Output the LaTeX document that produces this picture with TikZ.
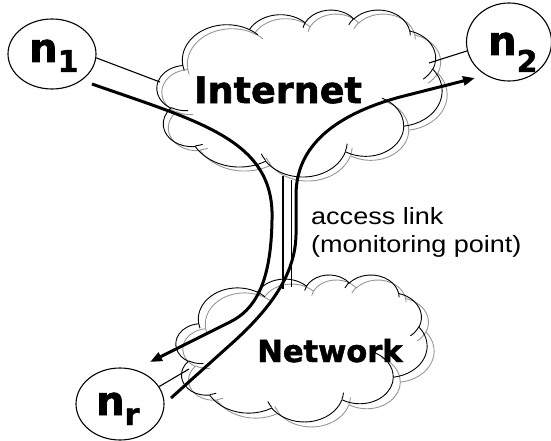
\documentclass[tikz,border=0pt]{standalone}
\usepackage{fontspec}
\setmainfont{Liberation Sans}
\newfontfamily\heavyfont[FakeBold=1.6]{DejaVu Sans}
\newfontfamily\notefont[FakeStretch=1.15]{Liberation Sans}
\usetikzlibrary{arrows.meta,shapes.geometric}

\definecolor{shadowgray}{RGB}{150,150,150}

\tikzset{
  % elliptical arc given by radii, a start angle measured on the ellipse
  % (geometric angle) and a sweep, as in preset shape geometry
  ooarc/.code n args={4}{%
    \pgfmathsetmacro\ooS{atan2((#1)*sin(#3),(#2)*cos(#3))}%
    \pgfmathsetmacro\ooE{atan2((#1)*sin((#3)+(#4)),(#2)*cos((#3)+(#4)))}%
    \pgfmathsetmacro\ooD{Mod(\ooE-(\ooS),360)-360*((#4)<0)}%
    \edef\ootmp{\noexpand\pgfkeysalso{start angle=\ooS,delta angle=\ooD,x radius=#1,y radius=#2}}%
    \ootmp},
  cloudline/.style={line width=0.9pt, line join=round},
  hostnode/.style={draw, ellipse, line width=1.1pt, inner sep=0pt},
  link/.style={line width=1.1pt},
  flow/.style={line width=3pt, -{Triangle[length=12pt,width=9pt]}},
  bigword/.style={inner sep=0pt, font=\heavyfont\bfseries},
  note/.style={inner sep=0pt, anchor=base west, font=\notefont\fontsize{23.5}{28}\selectfont},
  hostlabel/.style={inner sep=0pt, anchor=base west, font=\heavyfont\bfseries\fontsize{40}{40}\selectfont},
}

% cloud outline plus its inner puff arcs, in a 432 x 432 box
\newcommand\cloudpath[1]{%
  \draw[cloudline,#1] (39.00,143.70)
    arc[ooarc={67.53}{91.90}{-190.48748}{123.78053}]
    arc[ooarc={53.33}{72.67}{-144.10238}{89.94523}]
    arc[ooarc={43.65}{59.45}{-145.80792}{99.72302}]
    arc[ooarc={48.57}{65.95}{-130.98607}{117.24173}]
    arc[ooarc={53.33}{72.73}{-78.70888}{109.02692}]
    arc[ooarc={67.75}{92.20}{-46.26725}{130.26900}]
    arc[ooarc={57.85}{78.67}{0.62502}{114.03333}]
    arc[ooarc={67.52}{92.15}{22.45160}{115.17255}]
    arc[ooarc={77.20}{105.43}{66.24263}{75.71102}]
    arc[ooarc={43.60}{59.18}{-274.94208}{146.73557}]
    arc[ooarc={43.45}{59.45}{-246.82850}{152.51885}]
    -- cycle;
  \draw[cloudline,#1]
    (46.93,261.77) arc[ooarc={43.45}{59.45}{86.74200}{26.42950}]
    (69.28,348.99) arc[ooarc={43.60}{59.18}{73.61047}{11.44747}]
    (164.78,390.90) arc[ooarc={67.52}{92.15}{137.62415}{14.08110}]
    (288.27,347.51) arc[ooarc={67.52}{92.15}{6.45327}{15.99835}]
    (341.29,229.54) arc[ooarc={57.85}{78.67}{-70.29235}{70.91737}]
    (417.98,153.54) arc[ooarc={53.33}{72.73}{30.31803}{27.75150}]
    (383.24,54.26) arc[ooarc={48.57}{65.95}{-13.74433}{14.85890}]
    (290.78,39.52) arc[ooarc={48.57}{65.95}{-149.18145}{18.19537}]
    (221.41,47.20) arc[ooarc={43.65}{59.45}{-163.49427}{17.68635}]
    (140.00,51.92) arc[ooarc={67.53}{91.90}{-66.70695}{12.31935}]
    (41.27,157.89) arc[ooarc={67.53}{91.90}{157.65435}{11.85817}];
}

\begin{document}
\begin{tikzpicture}[x=1pt,y=-1pt]
\useasboundingbox (0,0) rectangle (551,441);

% Internet cloud: grey offset copy, then black outline
\begin{scope}[shift={(162,13.5)}, x=0.6597pt, y=-0.3864pt]
  \cloudpath{shadowgray}
\end{scope}
\begin{scope}[shift={(157,9.5)}, x=0.6597pt, y=-0.3864pt]
  \cloudpath{black}
\end{scope}

% Network cloud
\begin{scope}[shift={(183,279.5)}, x=0.581pt, y=-0.3401pt]
  \cloudpath{shadowgray}
\end{scope}
\begin{scope}[shift={(176,274.5)}, x=0.581pt, y=-0.3401pt]
  \cloudpath{black}
\end{scope}

% hosts
\node[hostnode, minimum width=88pt, minimum height=70pt] (n1) at (52,54) {};
\node[hostnode, minimum width=85pt, minimum height=78pt] (n2) at (509,42) {};
\node[hostnode, minimum width=88pt, minimum height=72pt] (nr) at (120,404) {};

\node[hostlabel] (n1lbl) at (29,62) {n\raisebox{-10pt}{\fontsize{30}{30}\selectfont 1}};
\node[hostlabel] (n2lbl) at (488,55) {n\raisebox{-17pt}{\fontsize{30}{30}\selectfont 2}};
\node[hostlabel] (nrlbl) at (96,415) {n\raisebox{-10pt}{\fontsize{30}{30}\selectfont r}};

% cloud names and the monitoring note
\node[bigword, anchor=base, font=\heavyfont\bfseries\fontsize{36.5}{37}\selectfont] (inet) at (278,103) {Internet};
\node[bigword, anchor=base, font=\heavyfont\bfseries\fontsize{30.5}{31}\selectfont] (net) at (330,362) {Network};
\node[note] (acc1) at (311,224) {access link};
\node[note] (acc2) at (311,252) {(monitoring point)};

% link ends
\coordinate (i1) at (160,82);
\coordinate (i2) at (429,63);
\coordinate (i3) at (189,369);
\coordinate (l1t) at (283,176);
\coordinate (l1b) at (283,289);
\coordinate (l2t) at (291.5,180);
\coordinate (l2b) at (291.5,287);

\draw[link] (n1.-5) -- (i1);
\draw[link] (n2.192) -- (i2);
\draw[link] (nr.24) -- (i3);
\draw[link] (l1t) -- (l1b);
\draw[link] (l2t) -- (l2b);

% traffic paths
\coordinate (a0) at (92,84);
\coordinate (a1) at (272,220);
\coordinate (a2) at (230,322);
\coordinate (aEnd) at (150,362);
\draw[flow] (a0) .. controls (200,122) and (275,140) .. (a1)
  .. controls (271,285) and (254,310) .. (a2) -- (aEnd);

\coordinate (b0) at (171,398);
\coordinate (b1) at (230,345);
\coordinate (b2) at (296,230);
\coordinate (b3) at (296,195);
\coordinate (b4) at (400,97);
\coordinate (bEnd) at (475,78);
\draw[flow] (b0) -- (b1) .. controls (275,305) and (297,270) .. (b2) -- (b3)
  .. controls (296,140) and (345,112) .. (b4) -- (bEnd);
\end{tikzpicture}
\end{document}
